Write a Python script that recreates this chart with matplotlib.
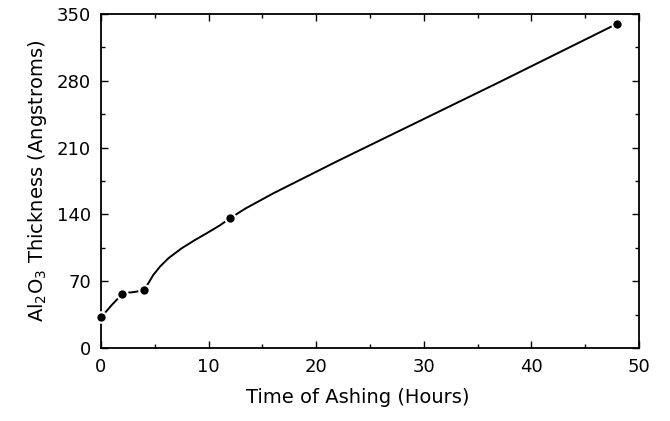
import numpy as np
import matplotlib.pyplot as plt

# measured points
hours = [0, 2, 4, 12, 48]
thickness = [32, 57, 61, 136, 340]

# fitted curve
curve_hours = [0, 1, 2, 2.5, 3, 3.5, 4, 4.2, 4.4, 4.86, 5.48, 6.26, 7.5, 8.74,
               9.97, 11.06, 12, 13.4, 16, 19, 22, 26, 30, 37, 48]
curve_thick = [32, 45, 57, 58, 58.5, 59.5, 61, 64.3, 67.8, 76.5, 85.2, 94, 104.5, 113.2,
               121.2, 128.6, 136, 146, 162, 179, 196, 218, 240, 278.5, 340]

plt.rcParams['font.family'] = ['DejaVu Sans']

fig = plt.figure(figsize=(6.7, 4.21), dpi=100)
ax = fig.add_axes([0.1507, 0.1734, 0.803, 0.7933])

ax.plot(curve_hours, curve_thick, color='black', lw=1.4, zorder=2)
ax.plot(hours, thickness, 'o', color='black', ms=7.5, mec='white', mew=1.5,
        zorder=3, clip_on=False)

ax.set_xlim(0, 50)
ax.set_ylim(0, 350)
ax.set_xticks([0, 10, 20, 30, 40, 50])
ax.set_xticks([5, 15, 25, 35, 45], minor=True)
ax.set_yticks([0, 70, 140, 210, 280, 350])
ax.set_yticks([35, 105, 175, 245, 315], minor=True)
ax.tick_params(which='both', direction='in', top=True, right=True, labelsize=13)
ax.tick_params(which='major', length=5, width=1, pad=7)
ax.tick_params(which='minor', length=3, width=1)
for s in ax.spines.values():
    s.set_linewidth(1.3)

ax.set_xlabel('Time of Ashing (Hours)', fontsize=14, labelpad=7)
ax.xaxis.set_label_coords(0.478, -0.12)
ax.set_ylabel('Al$_2$O$_3$ Thickness (Angstroms)', fontsize=14, labelpad=6)

plt.savefig('out.png', dpi=100)
